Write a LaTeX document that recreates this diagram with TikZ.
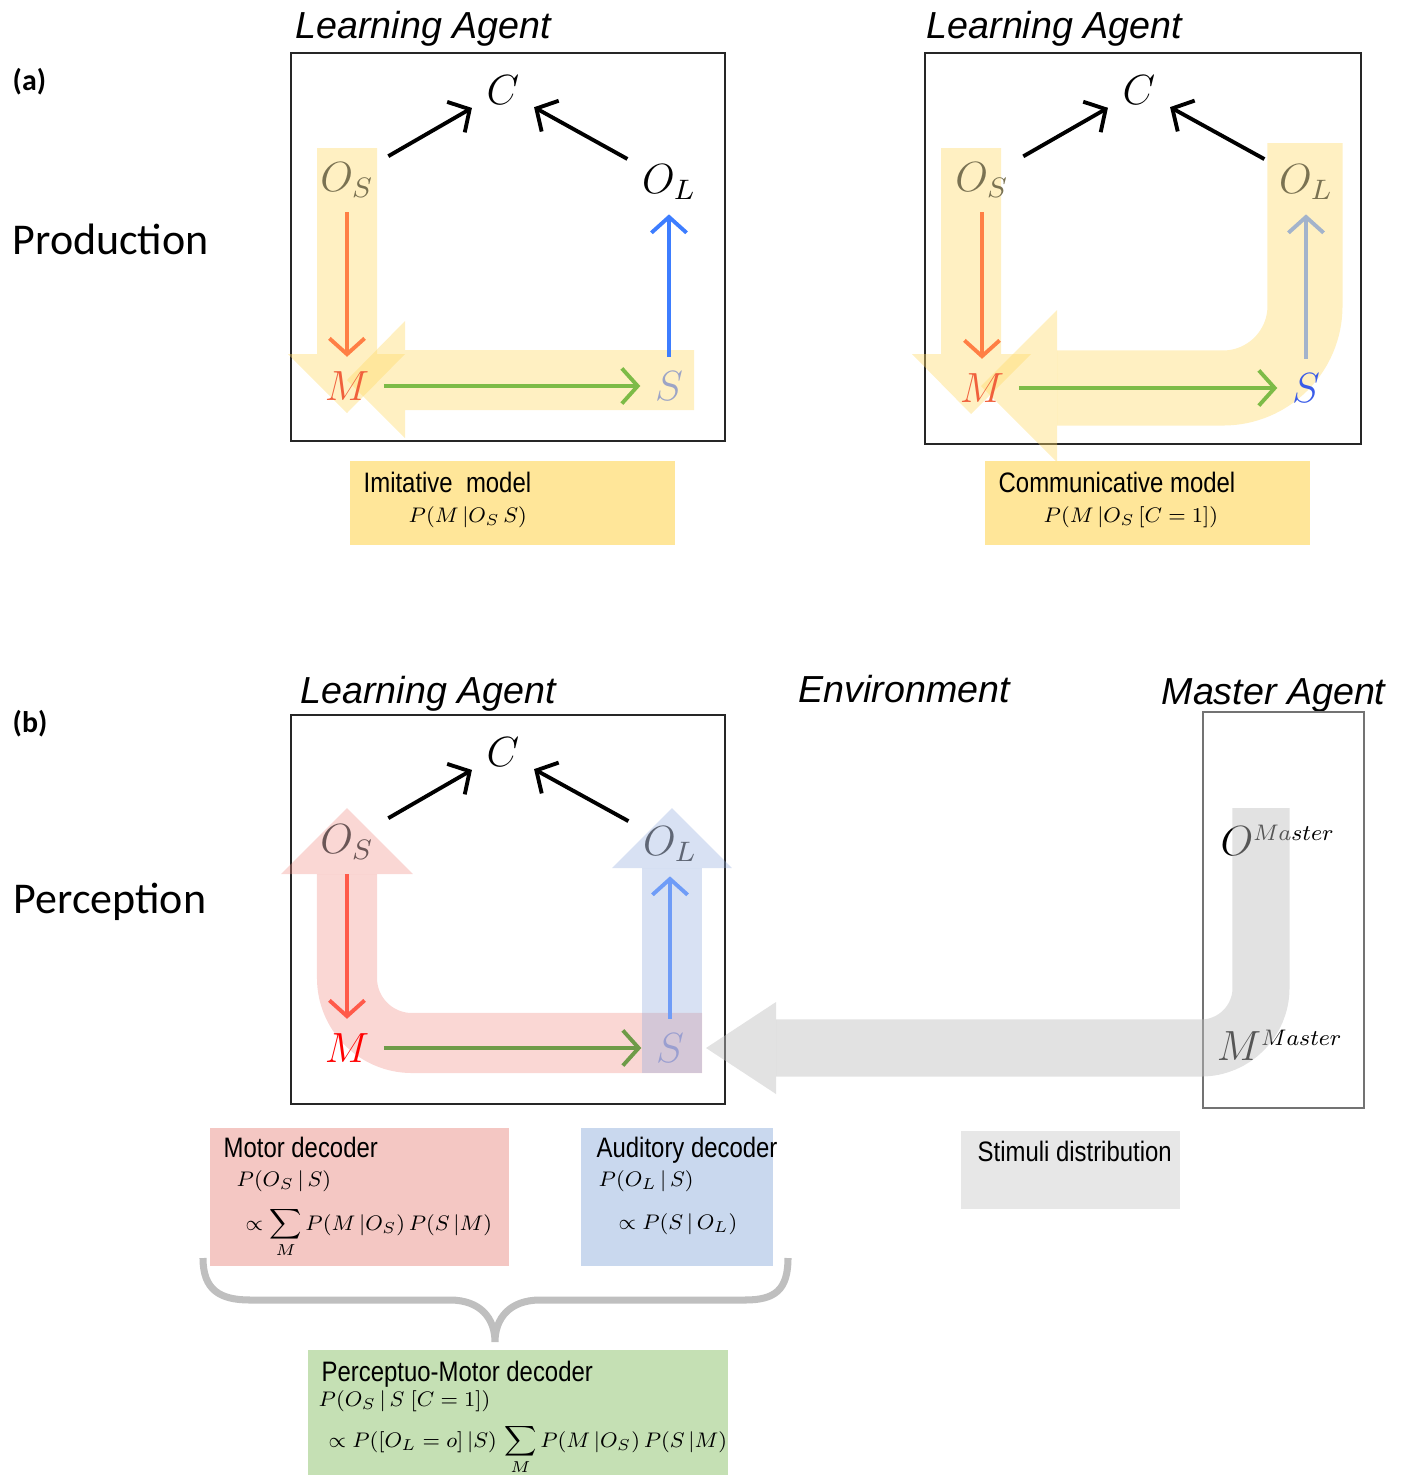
\RequirePackage{fix-cm}
\documentclass[tikz,border=0pt]{standalone}
\usepackage{amsmath}
\usepackage{graphicx}
\usepackage{fontspec}
\setmainfont{Liberation Sans}
\newfontfamily\calfont{Carlito}
\newfontfamily\narrowfont[FakeStretch=0.85]{Liberation Sans}
\usetikzlibrary{arrows.meta}

\definecolor{hiyellow}{HTML}{FFD966}
\definecolor{hipink}{HTML}{F08C84}
\definecolor{hiblue}{HTML}{8FAADC}
\definecolor{higray}{HTML}{BFBFBF}
\definecolor{boxyellow}{HTML}{FFE699}
\definecolor{boxpink}{HTML}{F4C7C3}
\definecolor{boxblue}{HTML}{C9D8EE}
\definecolor{boxgray}{HTML}{E7E7E7}
\definecolor{boxgreen}{HTML}{C5E0B4}
\definecolor{olivetx}{HTML}{7A7252}
\definecolor{orangetx}{HTML}{F0603C}
\definecolor{slatetx}{HTML}{9CA4C6}
\definecolor{bluetx}{HTML}{3A5CE8}
\definecolor{browntx}{HTML}{6B5656}
\definecolor{steeltx}{HTML}{5F6675}
\definecolor{lilactx}{HTML}{9A9FD0}
\definecolor{orangeln}{HTML}{FF7F45}
\definecolor{redln}{HTML}{FF5A4A}
\definecolor{blueln}{HTML}{3D7DFF}
\definecolor{paleblueln}{HTML}{A3B3CB}
\definecolor{softblueln}{HTML}{6F9CF7}
\definecolor{greenln}{HTML}{7DBB47}
\definecolor{darkgreenln}{HTML}{6E9B48}

% box formulas: 8pt shapes, shrunk
\newcommand{\boxf}[1]{\scalebox{0.75}{$\displaystyle #1$}}
\newcommand{\mastersup}{\scalebox{0.8}{$\scriptstyle Master$}}

\tikzset{
  agent/.style={draw=black!85, line width=0.6pt},
  var/.style={font=\fontsize{12}{14}\selectfont, inner sep=4pt},
  mastervar/.style={font=\fontsize{12}{14}\selectfont, inner sep=2pt},
  link/.style={-{Straight Barb[length=4.5pt,width=10pt]}, line width=1.1pt},
  heading/.style={anchor=base west, inner sep=0pt, font=\fontsize{10.7}{13}\selectfont\itshape},
  side/.style={anchor=base west, inner sep=0pt, font=\calfont\fontsize{12.5}{15}\selectfont},
  panel/.style={anchor=base west, inner sep=0pt, font=\calfont\bfseries\fontsize{8.5}{10}\selectfont},
  boxtext/.style={anchor=base west, inner sep=0pt, font=\narrowfont\fontsize{8}{10}\selectfont},
  boxmath/.style={anchor=base west, inner sep=0pt, font=\fontsize{8}{10}\selectfont},
  yband/.style={fill=hiyellow, fill opacity=0.4},
}

\begin{document}
\begin{tikzpicture}[x=0.01cm, y=-0.01cm]
\useasboundingbox (0,0) rectangle (1406,1475);

% ---------- (a) production ----------
\node[panel] (pa) at (12,90) {(a)};
\node[side] (prod) at (12,254) {Production};
\node[heading] (ta1) at (295,38) {Learning Agent};
\node[heading] (ta2) at (926,38) {Learning Agent};
\draw[agent] (291,53) rectangle (725,441);
\draw[agent] (925,53) rectangle (1361,444);

% imitative highlight
\fill[yband] (317,148) -- (377,148) -- (377,354) -- (405,354) -- (347,413) -- (288,354) -- (317,354) -- cycle;
\fill[yband] (694,350) -- (694,410) -- (405,410) -- (405,438) -- (347,380) -- (405,321) -- (405,350) -- cycle;
% communicative highlight
\fill[yband] (941,148) -- (1001,148) -- (1001,354) -- (1031,354) -- (971,414) -- (912,354) -- (941,354) -- cycle;
\draw[draw=hiyellow, draw opacity=0.4, line width=0.75cm, rounded corners=0.82cm]
  (1305,143) -- (1305,388) -- (1057,388);
\fill[yband] (1057,310) -- (1057,462) -- (981,386) -- cycle;

\node[var] (aC) at (503,90) {$C$};
\node[var, text=olivetx] (aOs) at (347,180) {$O_S$};
\node[var] (aOl) at (669,182) {$O_L$};
\node[var, text=orangetx] (aM) at (347,386) {$M$};
\node[var, text=slatetx] (aS) at (669,386) {$S$};
\draw[link] (aOs) -- (aC);
\draw[link] (aOl) -- (aC);
\draw[link, orangeln] (aOs) -- (aM);
\draw[link, blueln] (aS) -- (aOl);
\draw[link, greenln] (aM) -- (aS);

\node[var] (bC) at (1139,90) {$C$};
\node[var, text=olivetx] (bOs) at (982,180) {$O_S$};
\node[var, text=olivetx] (bOl) at (1306,182) {$O_L$};
\node[var, text=orangetx] (bM) at (982,388) {$M$};
\node[var, text=bluetx] (bS) at (1306,388) {$S$};
\draw[link] (bOs) -- (bC);
\draw[link] (bOl) -- (bC);
\draw[link, orangeln] (bOs) -- (bM);
\draw[link, paleblueln] (bS) -- (bOl);
\draw[link, greenln] (bM) -- (bS);

\fill[boxyellow] (350,461) rectangle (675,545);
\node[boxtext] (imit) at (363,492) {Imitative\ \ model};
\node[boxmath] (imitf) at (408,522) {\boxf{P(M\,|O_S\,S)}};
\fill[boxyellow] (985,461) rectangle (1310,545);
\node[boxtext] (comm) at (998,492) {Communicative model};
\node[boxmath] (commf) at (1043,522) {\boxf{P(M\,|O_S\,[C=1])}};

% ---------- (b) perception ----------
\node[panel] (pb) at (12,732) {(b)};
\node[side] (perc) at (13,913) {Perception};
\node[heading] (tb1) at (300,703) {Learning Agent};
\node[heading] (tenv) at (798,702) {Environment};
\node[heading] (tmas) at (1161,704) {Master Agent};
\draw[agent] (291,715) rectangle (725,1104);
\draw[draw=black!55, line width=0.8pt] (1203,712) rectangle (1364,1108);

\draw[draw=hipink, draw opacity=0.35, line width=0.6cm, rounded corners=0.65cm]
  (347,874) -- (347,1043) -- (702,1043);
\fill[hipink, fill opacity=0.35] (281,874) -- (413,874) -- (347,808) -- cycle;
\fill[hiblue, fill opacity=0.35] (642,868) rectangle (702,1073);
\fill[hiblue, fill opacity=0.35] (612,868) -- (732,868) -- (672,808) -- cycle;

\node[var] (cC) at (503,752) {$C$};
\node[var, text=browntx] (cOs) at (347,842) {$O_S$};
\node[var, text=steeltx] (cOl) at (670,844) {$O_L$};
\node[var, text=red] (cM) at (347,1048) {$M$};
\node[var, text=lilactx] (cS) at (670,1048) {$S$};
\draw[link] (cOs) -- (cC);
\draw[link] (cOl) -- (cC);
\draw[link, redln] (cOs) -- (cM);
\draw[link, softblueln] (cS) -- (cOl);
\draw[link, darkgreenln] (cM) -- (cS);

\node[mastervar] (mO) at (1278,840) {$O^{\mastersup}$};
\node[mastervar] (mM) at (1280,1045) {$M^{\mastersup}$};
\draw[draw=higray, draw opacity=0.45, line width=0.57cm, rounded corners=0.6cm]
  (1261,808) -- (1261,1048) -- (776,1048);
\fill[higray, fill opacity=0.45] (776,1002) -- (776,1094) -- (706,1048) -- cycle;

\fill[boxpink] (210,1128) rectangle (509,1266);
\node[boxtext] (motor) at (223,1157) {Motor decoder};
\node[boxmath] (motorf) at (236,1186) {\boxf{P(O_S\,|\,S)}};
\node[boxmath] (motorg) at (245,1230) {\boxf{\propto\sum_{M} P(M\,|O_S)\,P(S\,|M)}};
\fill[boxblue] (581,1128) rectangle (773,1266);
\node[boxtext] (audi) at (596,1157) {Auditory decoder};
\node[boxmath] (audif) at (598,1186) {\boxf{P(O_L\,|\,S)}};
\node[boxmath] (audig) at (618,1229) {\boxf{\propto P(S\,|\,O_L)}};
\fill[boxgray] (961,1131) rectangle (1180,1209);
\node[boxtext] (stim) at (977,1161) {Stimuli distribution};

\draw[draw=black!25, line width=2pt]
  (203,1258) .. controls (203,1290) and (220,1300) .. (250,1300) -- (450,1300)
  .. controls (480,1300) and (495,1318) .. (495,1342)
  .. controls (495,1318) and (510,1300) .. (540,1300) -- (745,1300)
  .. controls (775,1300) and (788,1290) .. (788,1258);

\fill[boxgreen] (308,1350) rectangle (728,1475);
\node[boxtext] (pm) at (321,1381) {Perceptuo-Motor decoder};
\node[boxmath] (pmf) at (318,1406) {\boxf{P(O_S\,|\,S\;[C=1])}};
\node[boxmath] (pmg) at (328,1447) {\boxf{\propto P([O_L=o]\,|S)\,\sum_{M} P(M\,|O_S)\,P(S\,|M)}};
\end{tikzpicture}
\end{document}
